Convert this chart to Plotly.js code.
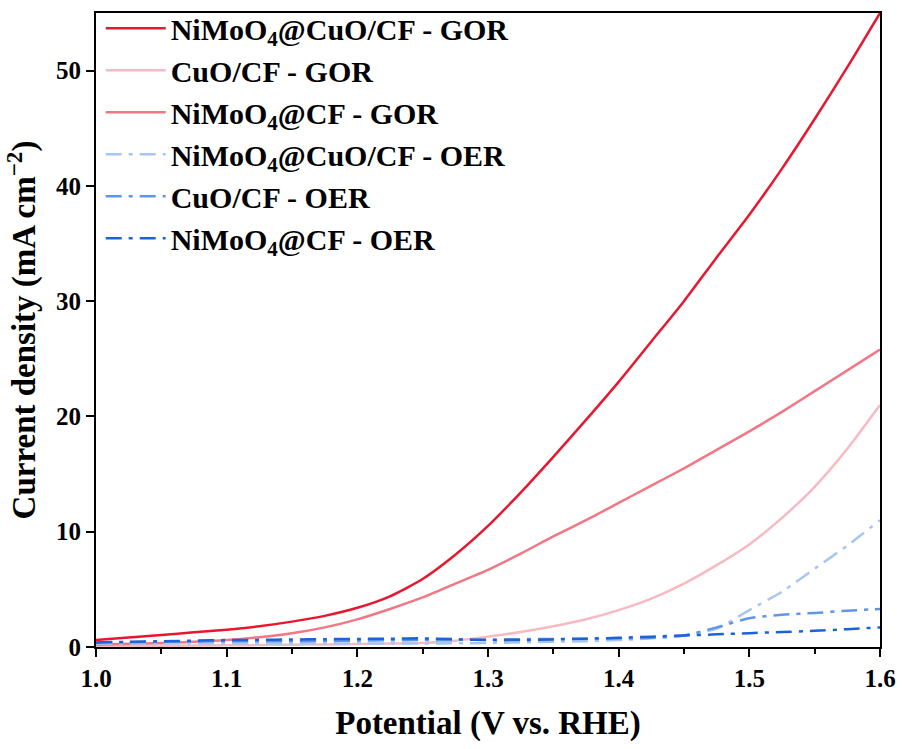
<!DOCTYPE html>
<html>
<head>
<meta charset="utf-8">
<script src="https://cdn.plot.ly/plotly-3.0.1.min.js"></script>
<style>html,body{margin:0;padding:0;background:#fff;}#chart{width:902px;height:749px;}</style>
</head>
<body>
<div id="chart"></div>
<script>
// Potential (V vs. RHE)
const potential = [1.000, 1.025, 1.050, 1.075, 1.100, 1.125, 1.150, 1.175, 1.200, 1.225, 1.250, 1.275, 1.300,
                   1.325, 1.350, 1.375, 1.400, 1.425, 1.450, 1.475, 1.500, 1.525, 1.550, 1.575, 1.600];

// Current density (mA cm^-2)
const niMoCuO_GOR = [0.6, 0.82, 1.04, 1.27, 1.5, 1.8, 2.2, 2.7, 3.4, 4.4, 5.9, 8.0, 10.5,
                     13.4, 16.5, 19.7, 23.0, 26.5, 30.0, 33.8, 37.5, 41.5, 45.8, 50.3, 55.0];
const cuO_GOR      = [0.1, 0.1, 0.1, 0.12, 0.15, 0.17, 0.2, 0.22, 0.25, 0.3, 0.35, 0.55, 0.9,
                     1.3, 1.8, 2.4, 3.2, 4.2, 5.5, 7.1, 8.9, 11.2, 13.9, 17.2, 21.0];
const niMo_GOR     = [0.2, 0.28, 0.35, 0.45, 0.6, 0.85, 1.2, 1.7, 2.4, 3.3, 4.3, 5.5, 6.7,
                     8.1, 9.6, 11.0, 12.5, 14.0, 15.5, 17.1, 18.7, 20.4, 22.2, 24.0, 25.8];
const niMoCuO_OER = [0.3, 0.3, 0.3, 0.3, 0.3, 0.3, 0.3, 0.3, 0.3, 0.3, 0.3, 0.32, 0.35,
                     0.4, 0.45, 0.5, 0.6, 0.75, 1.0, 1.6, 3.2, 4.8, 6.8, 8.8, 11.0];
const cuO_OER      = [0.4, 0.42, 0.45, 0.48, 0.5, 0.5, 0.5, 0.52, 0.55, 0.58, 0.6, 0.62, 0.65,
                     0.68, 0.7, 0.72, 0.75, 0.8, 1.0, 1.7, 2.5, 2.8, 2.95, 3.15, 3.3];
const niMo_OER     = [0.4, 0.45, 0.5, 0.55, 0.6, 0.62, 0.65, 0.68, 0.7, 0.72, 0.75, 0.68, 0.6,
                     0.6, 0.65, 0.72, 0.8, 0.9, 1.0, 1.1, 1.2, 1.3, 1.4, 1.55, 1.7];

const seriesNames = [
  'NiMoO<sub>4</sub>@CuO/CF - GOR',
  'CuO/CF - GOR',
  'NiMoO<sub>4</sub>@CF - GOR',
  'NiMoO<sub>4</sub>@CuO/CF - OER',
  'CuO/CF - OER',
  'NiMoO<sub>4</sub>@CF - OER'
];
const seriesValues = [niMoCuO_GOR, cuO_GOR, niMo_GOR, niMoCuO_OER, cuO_OER, niMo_OER];
const colors = ['#e8172f', '#f8b9c2', '#f27684', '#a7c6f2', '#5d97ea', '#1c63d9'];
const dashDot = '16px,7px,4px,7px';
const dashes = ['solid', 'solid', 'solid', dashDot, dashDot, dashDot];

const traces = seriesValues.map((v, i) => ({
  x: potential, y: v, name: seriesNames[i], type: 'scatter', mode: 'lines',
  line: {color: colors[i], width: 2.5, dash: dashes[i], shape: 'spline', smoothing: 0.6},
  legendgroup: 'g' + i
}));

const font = {family: '"Liberation Serif", "Times New Roman", serif', color: '#000'};

const layout = {
  width: 902, height: 749,
  margin: {l: 96, r: 22, t: 13, b: 102, autoexpand: false},
  paper_bgcolor: '#fff', plot_bgcolor: '#fff',
  font: font,
  showlegend: true,
  legend: {
    x: 0.006, y: 1.017, xanchor: 'left', yanchor: 'top',
    bgcolor: 'rgba(0,0,0,0)', borderwidth: 0,
    font: {family: font.family, size: 30, color: '#000', weight: 'bold'},
    itemwidth: 60,
    tracegroupgap: 0
  },
  xaxis: {
    range: [1.0, 1.6], dtick: 0.1, tick0: 1.0, tickformat: '.1f',
    ticks: 'outside', ticklen: 8, tickwidth: 2, tickcolor: '#000',
    minor: {dtick: 0.05, ticks: 'outside', ticklen: 5, tickwidth: 2, tickcolor: '#000'},
    showline: true, linecolor: '#000', linewidth: 2, mirror: true,
    showgrid: false, zeroline: false,
    tickfont: {family: font.family, size: 25, color: '#000', weight: 'bold'},
    title: {text: 'Potential (V vs. RHE)', standoff: 20,
      font: {family: font.family, size: 33, color: '#000', weight: 'bold'}}
  },
  yaxis: {
    range: [0, 55], dtick: 10, tick0: 0,
    ticks: 'outside', ticklen: 8, tickwidth: 2, tickcolor: '#000',
    showline: true, linecolor: '#000', linewidth: 2, mirror: true,
    showgrid: false, zeroline: false,
    tickfont: {family: font.family, size: 25, color: '#000', weight: 'bold'},
    title: {text: 'Current density (mA cm<sup>\u22122</sup>)', standoff: 10,
      font: {family: font.family, size: 33, color: '#000', weight: 'bold'}}
  }
};

Plotly.newPlot('chart', traces, layout, {displayModeBar: false, staticPlot: true});
</script>
</body>
</html>
